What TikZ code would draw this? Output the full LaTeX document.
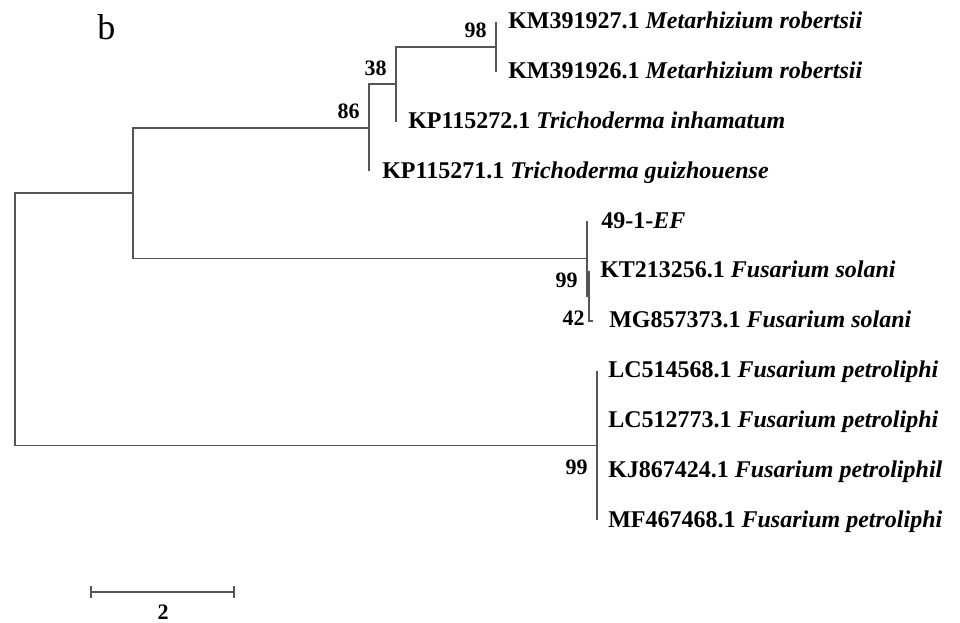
\documentclass[tikz,border=0pt]{standalone}
\usepackage{fontspec}
\setmainfont{Liberation Serif}
\definecolor{brc}{RGB}{85,85,85}
\begin{document}
\begin{tikzpicture}[x=0.75pt,y=-0.75pt,
  br/.style={line width=1.2pt, draw=brc},
  leaf/.style={anchor=base west, inner sep=0pt, font=\fontsize{18}{20}\selectfont\bfseries},
  boot/.style={anchor=base east, inner sep=0pt, font=\fontsize{16.5}{18}\selectfont\bfseries}]
\useasboundingbox (0,0) rectangle (960,623);
% internal nodes
\coordinate (R) at (15,319.25);
\coordinate (A) at (133,193.2);
\coordinate (N86) at (369,127.8);
\coordinate (N38) at (396,84.25);
\coordinate (N98) at (496,46.9);
\coordinate (B) at (587,258.55);
\coordinate (N99a) at (589,295.9);
\coordinate (C) at (597,445.3);
% leaf tips
\coordinate (L1) at (496,22);
\coordinate (L2) at (496,71.8);
\coordinate (L3) at (396,121.6);
\coordinate (L4) at (369,171.4);
\coordinate (L5) at (587,221.2);
\coordinate (L6) at (589,271);
\coordinate (L7) at (593,320.8);
\coordinate (L8) at (597,370.6);
\coordinate (L9) at (597,420.4);
\coordinate (L10) at (597,470.2);
\coordinate (L11) at (597,520);
% branches
\draw[br] (A) -| (R) |- (C);
\draw[br] (N86) -| (A) |- (B);
\draw[br] (N38) -| (N86) |- (L4);
\draw[br] (N98) -| (N38) |- (L3);
\draw[br] (L1) -- (N98) |- (L2);
\draw[br] (L5) -- (B) |- (N99a);
\draw[br] (L6) -- (N99a) |- (L7);
\draw[br] (L8) -- (C) -- (L11);
\draw[br] (C) -- (L9); \draw[br] (C) -- (L10);
% labels
\node[leaf] (t1) at (508,29) {KM391927.1 \textit{Metarhizium robertsii}};
\node[leaf] (t2) at (508,78.8) {KM391926.1 \textit{Metarhizium robertsii}};
\node[leaf] (t3) at (408,128.6) {KP115272.1 \textit{Trichoderma inhamatum}};
\node[leaf] (t4) at (382,178.4) {KP115271.1 \textit{Trichoderma guizhouense}};
\node[leaf] (t5) at (601,228.2) {49-1-\textit{EF}};
\node[leaf] (t6) at (600,278) {KT213256.1 \textit{Fusarium solani}};
\node[leaf] (t7) at (609,327.8) {MG857373.1 \textit{Fusarium solani}};
\node[leaf] (t8) at (608,377.6) {LC514568.1 \textit{Fusarium petroliphi}};
\node[leaf] (t9) at (608,427.4) {LC512773.1 \textit{Fusarium petroliphi}};
\node[leaf] (t10) at (608,477.2) {KJ867424.1 \textit{Fusarium petroliphil}};
\node[leaf] (t11) at (608,527) {MF467468.1 \textit{Fusarium petroliphi}};
% bootstrap values
\node[boot] (b98) at (487,38) {98};
\node[boot] (b38) at (387,76) {38};
\node[boot] (b86) at (360,119) {86};
\node[boot] (b99a) at (578,288) {99};
\node[boot] (b42) at (585,326) {42};
\node[boot] (b99b) at (588,474) {99};
% scale bar
\coordinate (s1) at (91,592);
\coordinate (s2) at (234,592);
\draw[br] (s1) -- (s2);
\draw[br] ([yshift=4.5pt]s1) -- ([yshift=-4.5pt]s1);
\draw[br] ([yshift=4.5pt]s2) -- ([yshift=-4.5pt]s2);
\node[anchor=base, inner sep=0pt, font=\fontsize{16.5}{18}\selectfont\bfseries] (sl) at (163,619) {2};
% panel letter
\node[anchor=base west, inner sep=0pt, font=\fontsize{27}{30}\selectfont] (pl) at (97,40) {b};
\end{tikzpicture}
\end{document}
